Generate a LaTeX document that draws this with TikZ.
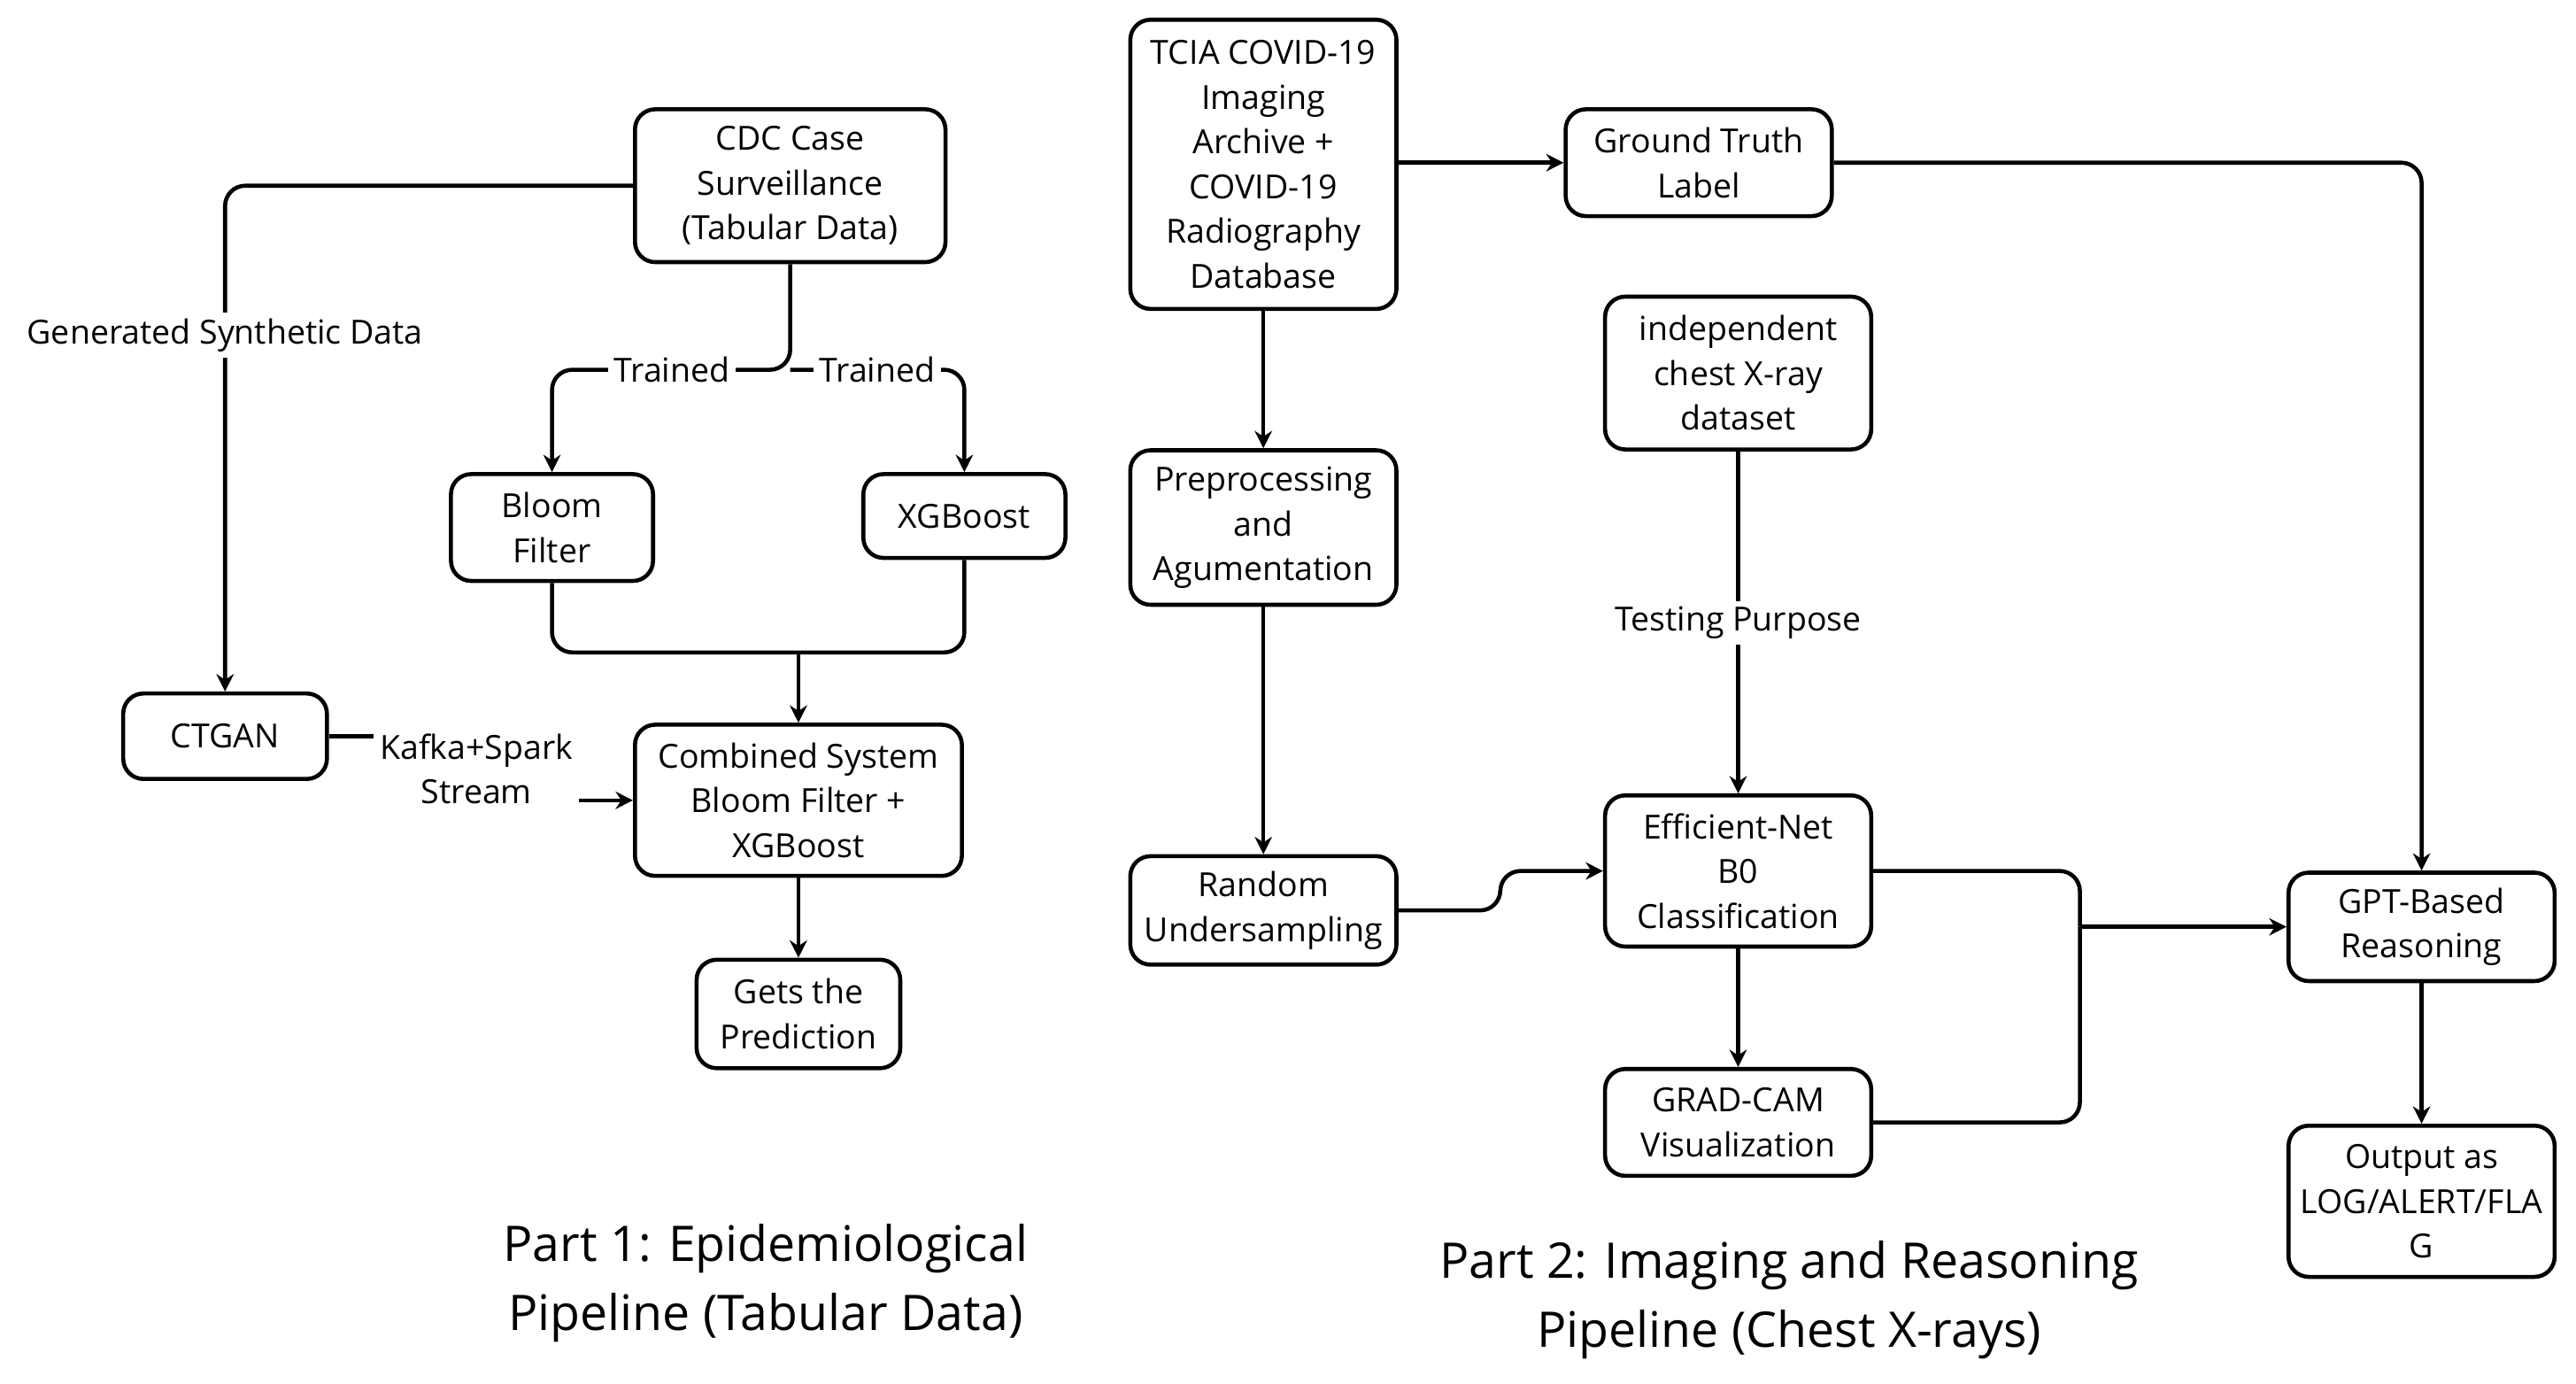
\documentclass[tikz,border=0pt]{standalone}
\usepackage{fontspec}
\setmainfont{Open Sans}
\usetikzlibrary{arrows.meta}
\tikzset{
  box/.style={draw, line width=1.4pt, rounded corners=7pt, align=center,
    font=\fontsize{11.5}{15.5}\selectfont, inner sep=0pt},
  lbl/.style={fill=white, align=center, font=\fontsize{11.5}{15.5}\selectfont, inner sep=2pt},
  ttl/.style={align=center, font=\fontsize{17}{24}\selectfont},
  link/.style={line width=1.4pt, rounded corners=7pt},
  arr/.style={link, -{Stealth[length=6pt,width=6pt]}}
}
\begin{document}
\begin{tikzpicture}[x=0.02cm,y=-0.02cm]
        \useasboundingbox (0,0) rectangle (1568,842);

        % part 1
        \node[box, minimum width=189*0.02cm, minimum height=93*0.02cm] (cdc) at (481,113) {CDC Case\\Surveillance\\(Tabular Data)};
        \node[box, minimum width=123*0.02cm, minimum height=65*0.02cm] (bloom) at (336,321) {Bloom\\Filter};
        \node[box, minimum width=123*0.02cm, minimum height=51*0.02cm] (xgb) at (587,314) {XGBoost};
        \node[box, minimum width=124*0.02cm, minimum height=52*0.02cm] (ctgan) at (137,448) {CTGAN};
        \node[box, minimum width=199*0.02cm, minimum height=92*0.02cm] (comb) at (486,487) {Combined System\\Bloom Filter +\\XGBoost};
        \node[box, minimum width=124*0.02cm, minimum height=66*0.02cm] (gets) at (486,617) {Gets the\\Prediction};

        \coordinate (split) at (481,225);
        \coordinate (merge) at (486,397);

        \draw[arr] (cdc.west) -| (ctgan.north);
        \node[lbl] (gen) at (137,204) {Generated Synthetic Data};

        \draw[arr] (cdc.south) -- (split) -| (bloom.north);
        \draw[arr] (split) -| (xgb.north);
        \node[lbl] (tr1) at (409,225) {Trained};
        \node[lbl] (tr2) at (534,225) {Trained};

        \draw[link] (bloom.south) |- (merge);
        \draw[link] (xgb.south) |- (merge);
        \draw[arr] (merge) -- (comb.north);

        \node[lbl] (kafka) at (290,468) {Kafka+Spark\\Stream};
        \draw[link] (ctgan.east) -- (ctgan.east -| kafka.west);
        \draw[arr] (comb.west -| kafka.east) -- (comb.west);

        \draw[arr] (comb.south) -- (gets.north);

        % part 2
        \node[box, minimum width=162*0.02cm, minimum height=176*0.02cm] (tcia) at (769,100) {TCIA COVID-19\\Imaging\\Archive +\\COVID-19\\Radiography\\Database};
        \node[box, minimum width=162*0.02cm, minimum height=65*0.02cm] (truth) at (1034,99) {Ground Truth\\Label};
        \node[box, minimum width=162*0.02cm, minimum height=93*0.02cm] (indep) at (1058,227) {independent\\chest X-ray\\dataset};
        \node[box, minimum width=162*0.02cm, minimum height=94*0.02cm] (prep) at (769,321) {Preprocessing\\and\\Agumentation};
        \node[box, minimum width=162*0.02cm, minimum height=66*0.02cm] (rand) at (769,554) {Random\\Undersampling};
        \node[box, minimum width=162*0.02cm, minimum height=92*0.02cm] (eff) at (1058,530) {Efficient-Net\\B0\\Classification};
        \node[box, minimum width=162*0.02cm, minimum height=65*0.02cm] (grad) at (1058,683) {GRAD-CAM\\Visualization};
        \node[box, minimum width=162*0.02cm, minimum height=66*0.02cm] (gpt) at (1474,564) {GPT-Based\\Reasoning};
        \node[box, minimum width=162*0.02cm, minimum height=92*0.02cm] (out) at (1474,731) {Output as\\LOG/ALERT/FLA\\G};

        \coordinate (join) at (1266,564);

        \draw[arr] (tcia.east |- truth.west) -- (truth.west);
        \draw[arr] (truth.east) -| (gpt.north);
        \draw[arr] (tcia.south) -- (prep.north);
        \draw[arr] (prep.south) -- (rand.north);
        \draw[arr] (indep.south) -- (eff.north);
        \node[lbl] (test) at (1058,379) {Testing Purpose};
        \draw[arr] (rand.east) -- ++(62,0) |- (eff.west);
        \draw[arr] (eff.south) -- (grad.north);
        \draw[link] (eff.east) -| (join);
        \draw[link] (grad.east) -| (join);
        \draw[arr] (join) -- (gpt.west);
        \draw[arr] (gpt.south) -- (out.north);

        % titles
        \node[ttl] (t1) at (466,781) {Part 1: Epidemiological\\Pipeline (Tabular Data)};
        \node[ttl] (t2) at (1089,791) {Part 2: Imaging and Reasoning\\Pipeline (Chest X-rays)};
\end{tikzpicture}
\end{document}
